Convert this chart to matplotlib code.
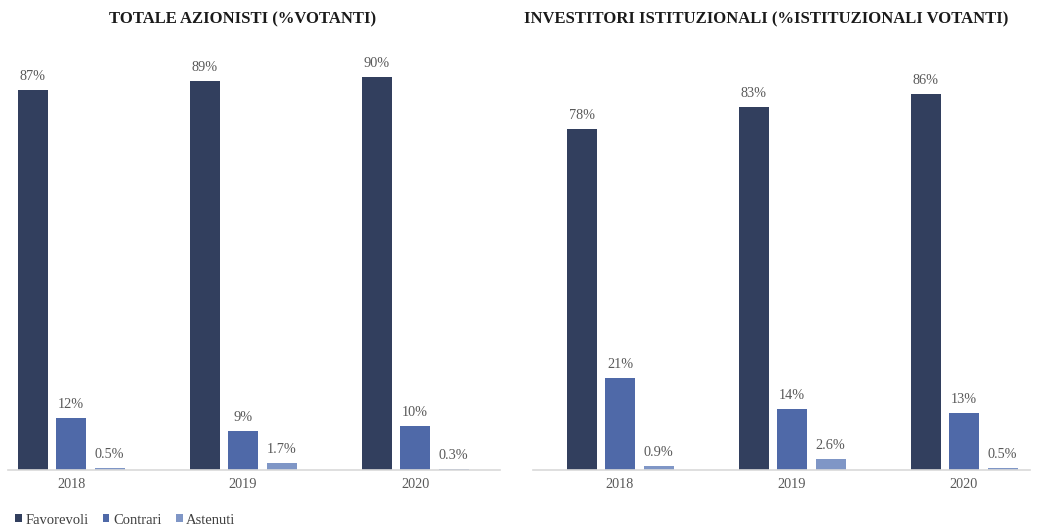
import matplotlib
matplotlib.use("Agg")
import matplotlib.pyplot as plt
import numpy as np

years = ["2018", "2019", "2020"]
series_names = ["Favorevoli", "Contrari", "Astenuti"]

totale_favorevoli = [87, 89, 90]
totale_contrari = [12, 9, 10]
totale_astenuti = [0.5, 1.7, 0.3]
totale_labels = [["87%", "89%", "90%"], ["12%", "9%", "10%"], ["0.5%", "1.7%", "0.3%"]]

istit_favorevoli = [78, 83, 86]
istit_contrari = [21, 14, 13]
istit_astenuti = [0.9, 2.6, 0.5]
istit_labels = [["78%", "83%", "86%"], ["21%", "14%", "13%"], ["0.9%", "2.6%", "0.5%"]]

title_left = "TOTALE AZIONISTI (%VOTANTI)"
title_right = "INVESTITORI ISTITUZIONALI (%ISTITUZIONALI VOTANTI)"

colors = ["#323F5E", "#4F69A8", "#7F96C6"]
serif = ["Liberation Serif", "DejaVu Serif"]

fig = plt.figure(figsize=(10.37, 5.30), dpi=100)
W, H = 1037, 530

def make_ax(x0, x1):
    return fig.add_axes([x0 / W, 60 / H, (x1 - x0) / W, (470 - 33) / H])

ax_l = make_ax(8, 500)
ax_r = make_ax(533, 1030)

bw = 30 / 172
off = 38.5 / 172

def draw(ax, data, labels, xlim):
    x = np.arange(len(years))
    for i, (vals, labs) in enumerate(zip(data, labels)):
        bars = ax.bar(x + (i - 1) * off, vals, width=bw, color=colors[i],
                      label=series_names[i], zorder=2)
        for b, lab in zip(bars, labs):
            ax.text(b.get_x() + b.get_width() / 2, b.get_height() + 1.6, lab,
                    ha="center", va="bottom", fontsize=10.3, color="#595959",
                    family=serif)
    ax.set_xlim(*xlim)
    ax.set_ylim(0, 100)
    ax.set_xticks(x)
    ax.set_xticklabels(years, family=serif, fontsize=10.3, color="#595959")
    ax.tick_params(axis="x", length=0, pad=6)
    ax.set_yticks([])
    for s in ["top", "right", "left"]:
        ax.spines[s].set_visible(False)
    ax.spines["bottom"].set_color("#D9D9D9")
    ax.spines["bottom"].set_linewidth(1.2)

draw(ax_l, [totale_favorevoli, totale_contrari, totale_astenuti], totale_labels,
     ((8 - 71) / 172, (500 - 71) / 172))
draw(ax_r, [istit_favorevoli, istit_contrari, istit_astenuti], istit_labels,
     ((533 - 620) / 172, (1030 - 620) / 172))

fig.text(243 / W, 1 - 19 / H, title_left, ha="center", va="center",
         fontsize=12, fontweight="bold", family=serif, color="#1a1a1a")
fig.text(766 / W, 1 - 19 / H, title_right, ha="center", va="center",
         fontsize=12, fontweight="bold", family=serif, color="#1a1a1a")

handles, labs = ax_l.get_legend_handles_labels()
leg = fig.legend(handles, labs, loc="center left", bbox_to_anchor=(15 / W, 1 - 520 / H),
                 ncol=3, frameon=False, prop={"family": serif, "size": 10.5},
                 handlelength=0.45, handleheight=0.45, handletextpad=0.25,
                 columnspacing=1.0, borderaxespad=0, borderpad=0)
for t in leg.get_texts():
    t.set_color("#404040")

fig.savefig("out.png", dpi=100, facecolor="white")
